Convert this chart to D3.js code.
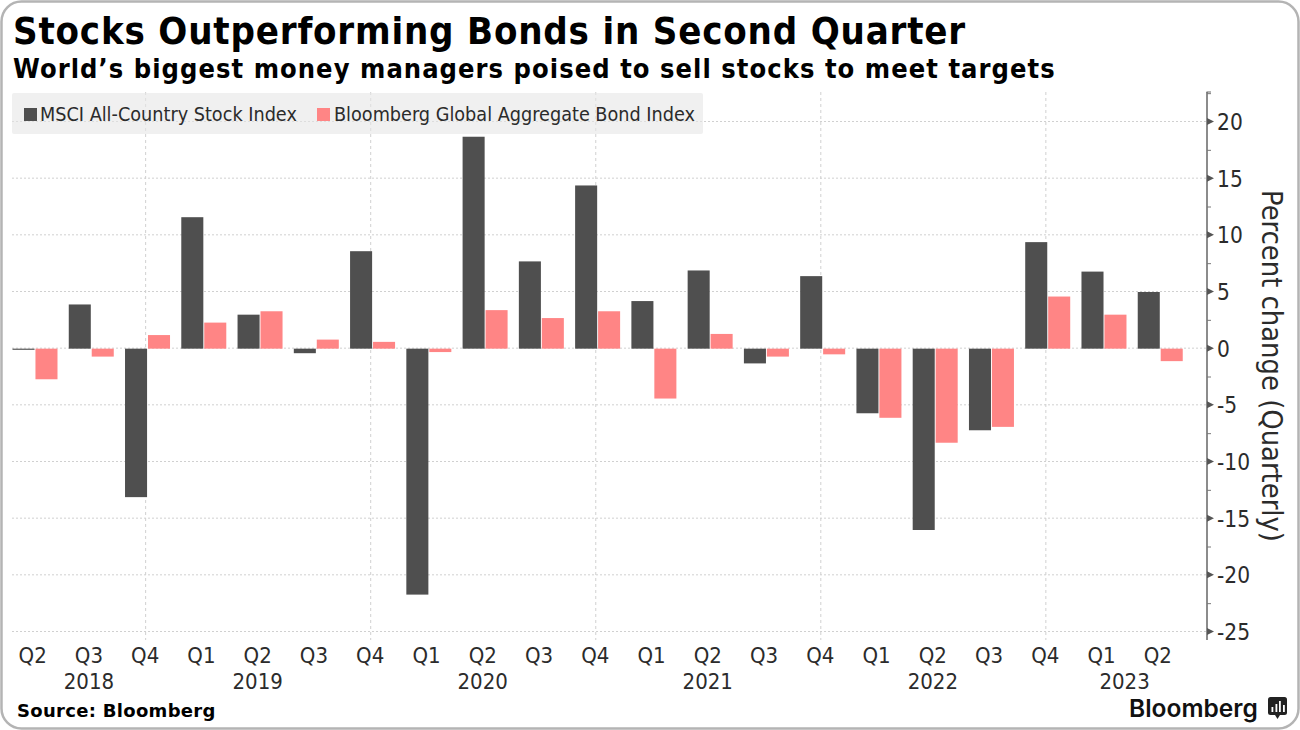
<!DOCTYPE html>
<html><head><meta charset="utf-8">
<script src="https://cdn.jsdelivr.net/npm/d3@7"></script>
<style>
html,body{margin:0;padding:0;background:#fff}
svg{display:block}
text{font-family:"DejaVu Sans",sans-serif}
.cond{font-stretch:condensed;fill:#2b2b2b}
.boldc{font-stretch:condensed;font-weight:700;fill:#000}
.tick text{font-family:"DejaVu Sans",sans-serif;font-stretch:condensed;fill:#2b2b2b}
</style></head><body>
<svg id="c" width="1300" height="730"></svg>
<script>
const title = "Stocks Outperforming Bonds in Second Quarter";
const subtitle = "World’s biggest money managers poised to sell stocks to meet targets";
const source = "Source: Bloomberg";
const brand = "Bloomberg";
const axisLabel = "Percent change (Quarterly)";
const seriesNames = ["MSCI All-Country Stock Index","Bloomberg Global Aggregate Bond Index"];
const seriesColors = ["#4f4f4f","#ff8585"];
const quarters = ["2018 Q2","2018 Q3","2018 Q4","2019 Q1","2019 Q2","2019 Q3","2019 Q4","2020 Q1","2020 Q2","2020 Q3","2020 Q4","2021 Q1","2021 Q2","2021 Q3","2021 Q4","2022 Q1","2022 Q2","2022 Q3","2022 Q4","2023 Q1","2023 Q2"];
const stocks = [-0.1,3.9,-13.1,11.6,3.0,-0.4,8.6,-21.7,18.7,7.7,14.4,4.2,6.9,-1.3,6.4,-5.7,-16.0,-7.2,9.4,6.8,5.0];
const bonds = [-2.7,-0.7,1.2,2.3,3.3,0.8,0.6,-0.3,3.4,2.7,3.3,-4.4,1.3,-0.7,-0.5,-6.1,-8.3,-6.9,4.6,3.0,-1.1];
const years = ["2018","2019","2020","2021","2022","2023"];
const yearAnchor = ["2018 Q3","2019 Q2","2020 Q2","2021 Q2","2022 Q2","2023 Q1"];
const yTicks = [-25,-20,-15,-10,-5,0,5,10,15,20];
const yMinor = [-22.5,-17.5,-12.5,-7.5,-2.5,2.5,7.5,12.5,17.5,22.5];

const svg = d3.select("#c");
const L=12, R=1207, T=92, B=640;
const y = d3.scaleLinear().domain([-25,20]).range([632,122]);
const x = d3.scaleBand().domain(quarters).range([5.5,1187]);
const inner = d3.scaleBand().domain([0,1]).range([7,52]).paddingInner(0.04);

svg.append("rect").attr("x",1.5).attr("y",1.5).attr("width",1297).attr("height",727)
  .attr("rx",20).attr("fill","#fff").attr("stroke","#b4b4b4").attr("stroke-width",2.5);

svg.append("text").attr("class","boldc").attr("x",13).attr("y",44).attr("font-size",38)
  .attr("letter-spacing",0.8).text(title);
svg.append("text").attr("class","boldc").attr("x",13).attr("y",78).attr("font-size",27)
  .attr("letter-spacing",1.05).text(subtitle);

// grid
const grid = svg.append("g");
grid.selectAll("line.h").data(yTicks).join("line").attr("class","h")
  .attr("x1",L).attr("x2",R).attr("y1",d=>y(d)-.5).attr("y2",d=>y(d)-.5)
  .attr("stroke","#d0d0d0").attr("stroke-dasharray","2 2");
grid.selectAll("line.v").data(quarters.filter(q=>q.endsWith("Q4"))).join("line").attr("class","v")
  .attr("x1",d=>x(d)+x.bandwidth()/2-.5).attr("x2",d=>x(d)+x.bandwidth()/2-.5)
  .attr("y1",T).attr("y2",B).attr("stroke","#d0d0d0").attr("stroke-dasharray","3 3");

// legend
const lg = svg.append("g");
lg.append("rect").attr("x",12).attr("y",93).attr("width",691).attr("height",41).attr("rx",2)
  .attr("fill","#e6e6e6").attr("fill-opacity",0.6);
const legendSwatch=[24,317], legendText=[40,334];
seriesNames.forEach((n,i)=>{
  lg.append("rect").attr("x",legendSwatch[i]).attr("y",108).attr("width",13).attr("height",13).attr("fill",seriesColors[i]);
  lg.append("text").attr("class","cond").attr("x",legendText[i]).attr("y",121).attr("font-size",19.65).text(n);
});

// bars
[stocks,bonds].forEach((vals,s)=>{
  svg.append("g").selectAll("rect").data(vals).join("rect")
    .attr("x",(d,i)=>x(quarters[i])+inner(s))
    .attr("width",inner.bandwidth())
    .attr("y",d=>Math.min(y(d),y(0)))
    .attr("height",d=>Math.abs(y(d)-y(0)))
    .attr("fill",seriesColors[s]);
});

// y axis
const yAxis = d3.axisRight(y).tickValues(yTicks).tickSize(0).tickPadding(10).tickFormat(d3.format("d"));
const ga = svg.append("g").attr("transform",`translate(${R},0)`).call(yAxis);
ga.select(".domain").remove();
ga.selectAll("text").attr("font-size",22.5).attr("dy","0.33em").text(d=>String(d));
ga.append("line").attr("y1",T).attr("y2",B).attr("stroke","#666").attr("stroke-width",1.5);
ga.append("line").attr("x1",-.5).attr("x2",4).attr("y1",T).attr("y2",T).attr("stroke","#666");
ga.selectAll("path.arrow").data(yTicks).join("path").attr("class","arrow")
  .attr("d",d=>d3.line()([[0,y(d)-4],[7,y(d)-.5],[0,y(d)+3]])+"Z").attr("fill","#555");
ga.selectAll("line.minor").data(yMinor).join("line").attr("class","minor")
  .attr("x1",0).attr("x2",4).attr("y1",d=>y(d)).attr("y2",d=>y(d)).attr("stroke","#777");

svg.append("text").attr("class","cond").attr("transform","translate(1262,366) rotate(90)")
  .attr("text-anchor","middle").attr("font-size",28.8).text(axisLabel);

// x axis
const xAxis = d3.axisBottom(x).tickSize(0).tickPadding(7).tickFormat(d=>d.slice(-2));
const gx = svg.append("g").attr("transform","translate(-1,640)").call(xAxis);
gx.select(".domain").remove();
gx.selectAll("text").attr("font-size",22);
svg.append("g").selectAll("text").data(years).join("text").attr("class","cond")
  .attr("x",(d,i)=>x(yearAnchor[i])+x.bandwidth()/2-1+(i===5?23:0)).attr("y",689)
  .attr("text-anchor","middle").attr("font-size",22).text(d=>d);

// footer
svg.append("text").attr("x",17).attr("y",717).attr("font-size",18).attr("font-weight",700)
  .attr("fill","#000").attr("letter-spacing",0.3).text(source);
svg.append("text").attr("x",1129).attr("y",717).style("font-family","Inter, 'Open Sans', sans-serif")
  .attr("font-size",24.5).attr("font-weight",600).attr("fill","#111").text(brand);
const ic = svg.append("g");
ic.append("rect").attr("x",1268).attr("y",697).attr("width",19).attr("height",18).attr("rx",2.5).attr("fill","#222");
ic.append("path").attr("d","M1275 715 L1277.5 719 L1280 715 Z").attr("fill","#222");
[[1271.5,707,5],[1275.5,704,8],[1279,701,11],[1283,705,7]].forEach(b=>
  ic.append("rect").attr("x",b[0]).attr("y",b[1]).attr("width",1.8).attr("height",b[2]).attr("fill","#fff"));
</script>
</body></html>
